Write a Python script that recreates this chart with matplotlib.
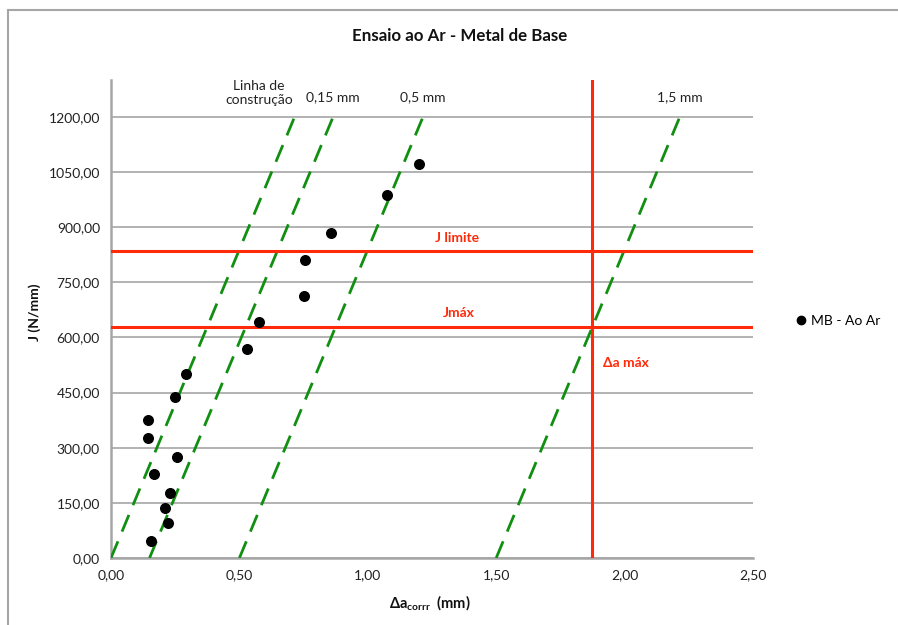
import numpy as np
import matplotlib
matplotlib.use('Agg')
import matplotlib.pyplot as plt
from matplotlib.lines import Line2D

plt.rcParams['font.family'] = ['Lato', 'DejaVu Sans']

# pontos do ensaio (MB - Ao Ar)
da_corr = [1.199, 1.075, 0.857, 0.755, 0.752, 0.576, 0.530, 0.292, 0.249,
           0.144, 0.144, 0.257, 0.167, 0.230, 0.210, 0.222, 0.156]
j_vals = [1072, 988, 884, 811, 713, 642, 569, 501, 438,
          376, 327, 275, 229, 177, 136, 95, 46]

# linhas de construcao / exclusao
offsets = [0.0, 0.15, 0.5, 1.5]
offset_labels = ['Linha de\nconstrução', '0,15 mm', '0,5 mm', '1,5 mm']
slope = 1678.0
j_top = 1200

j_limite = 836
j_max = 629
da_max = 1.872

y_ticks = [0, 150, 300, 450, 600, 750, 900, 1050, 1200]
x_ticks = [0, 0.5, 1.0, 1.5, 2.0, 2.5]

green = '#118f11'
red = '#ff2a0a'
grid_c = '#a6a6a6'

W, H = 898, 625
fig = plt.figure(figsize=(W / 100, H / 100), dpi=100)
ax = fig.add_axes([111 / W, 1 - 558 / H, (753 - 111) / W, (558 - 80) / H])

ax.set_xlim(0, 2.5)
ax.set_ylim(0, 1300)
ax.set_yticks(y_ticks)
ax.set_xticks(x_ticks)
ax.set_yticklabels([f'{v:.2f}'.replace('.', ',') for v in y_ticks])
ax.set_xticklabels([f'{v:.2f}'.replace('.', ',') for v in x_ticks])
ax.tick_params(length=0, labelsize=10, colors='#222222', pad=8)

ax.yaxis.grid(True, color=grid_c, lw=1.2)
ax.set_axisbelow(True)
for s in ['top', 'right']:
    ax.spines[s].set_visible(False)
for s in ['left', 'bottom']:
    ax.spines[s].set_color(grid_c)
    ax.spines[s].set_linewidth(1.8)

# linhas verdes tracejadas
for off in offsets:
    ax.plot([off, off + j_top / slope], [0, j_top], color=green, lw=2.0,
            dashes=(6.5, 3.8), zorder=3)

# linhas vermelhas
ax.axhline(j_limite, color=red, lw=2.2, zorder=4)
ax.axhline(j_max, color=red, lw=2.2, zorder=4)
ax.axvline(da_max, color=red, lw=2.2, zorder=4)

ax.scatter(da_corr, j_vals, s=48, color='black', zorder=5)

# rotulos das linhas
label_x = [0.576, 0.864, 1.215, 2.216]
label_y = [1265, 1252, 1252, 1252]
for x, y, t in zip(label_x, label_y, offset_labels):
    ax.text(x, y, t, ha='center', va='center', fontsize=10, color='#222222',
            linespacing=1.15, clip_on=False)

ax.text(1.347, 871, 'J limite', ha='center', va='center', fontsize=10,
        color=red, fontweight='bold')
ax.text(1.355, 667, 'Jmáx', ha='center', va='center', fontsize=10,
        color=red, fontweight='bold')
ax.text(1.916, 531, 'Δa máx', ha='left', va='center', fontsize=10,
        color=red, fontweight='bold')

fig.text(460 / W, 1 - 36 / H, 'Ensaio ao Ar - Metal de Base', ha='center',
         va='center', fontsize=12.2, fontweight='bold', color='#111111')
fig.text(35 / W, 1 - 312 / H, 'J (N/mm)', rotation=90, ha='center',
         va='center', fontsize=10, fontweight='bold', color='#111111')
fig.text(430 / W, 1 - 603 / H, r'Δa$_{\mathregular{corrr}}$  (mm)', ha='center',
         va='center', fontsize=10.5, fontweight='bold', color='#111111')

handle = Line2D([], [], marker='o', ls='none', color='black', markersize=6)
ax.legend([handle], ['MB - Ao Ar'], loc='center left',
          bbox_to_anchor=(797 / W, 1 - 321 / H), bbox_transform=fig.transFigure,
          frameon=False, handlelength=0.6, handletextpad=0.4, borderpad=0,
          borderaxespad=0, fontsize=10)

# moldura do grafico (parcial, como no original)
fig.add_artist(Line2D([8 / W, 1], [1 - 10 / H, 1 - 10 / H], color='#a6a6a6',
                      lw=1.5, transform=fig.transFigure))
fig.add_artist(Line2D([8 / W, 8 / W], [0, 1 - 10 / H], color='#a6a6a6',
                      lw=1.5, transform=fig.transFigure))

fig.savefig('out.png', dpi=100, facecolor='white')
